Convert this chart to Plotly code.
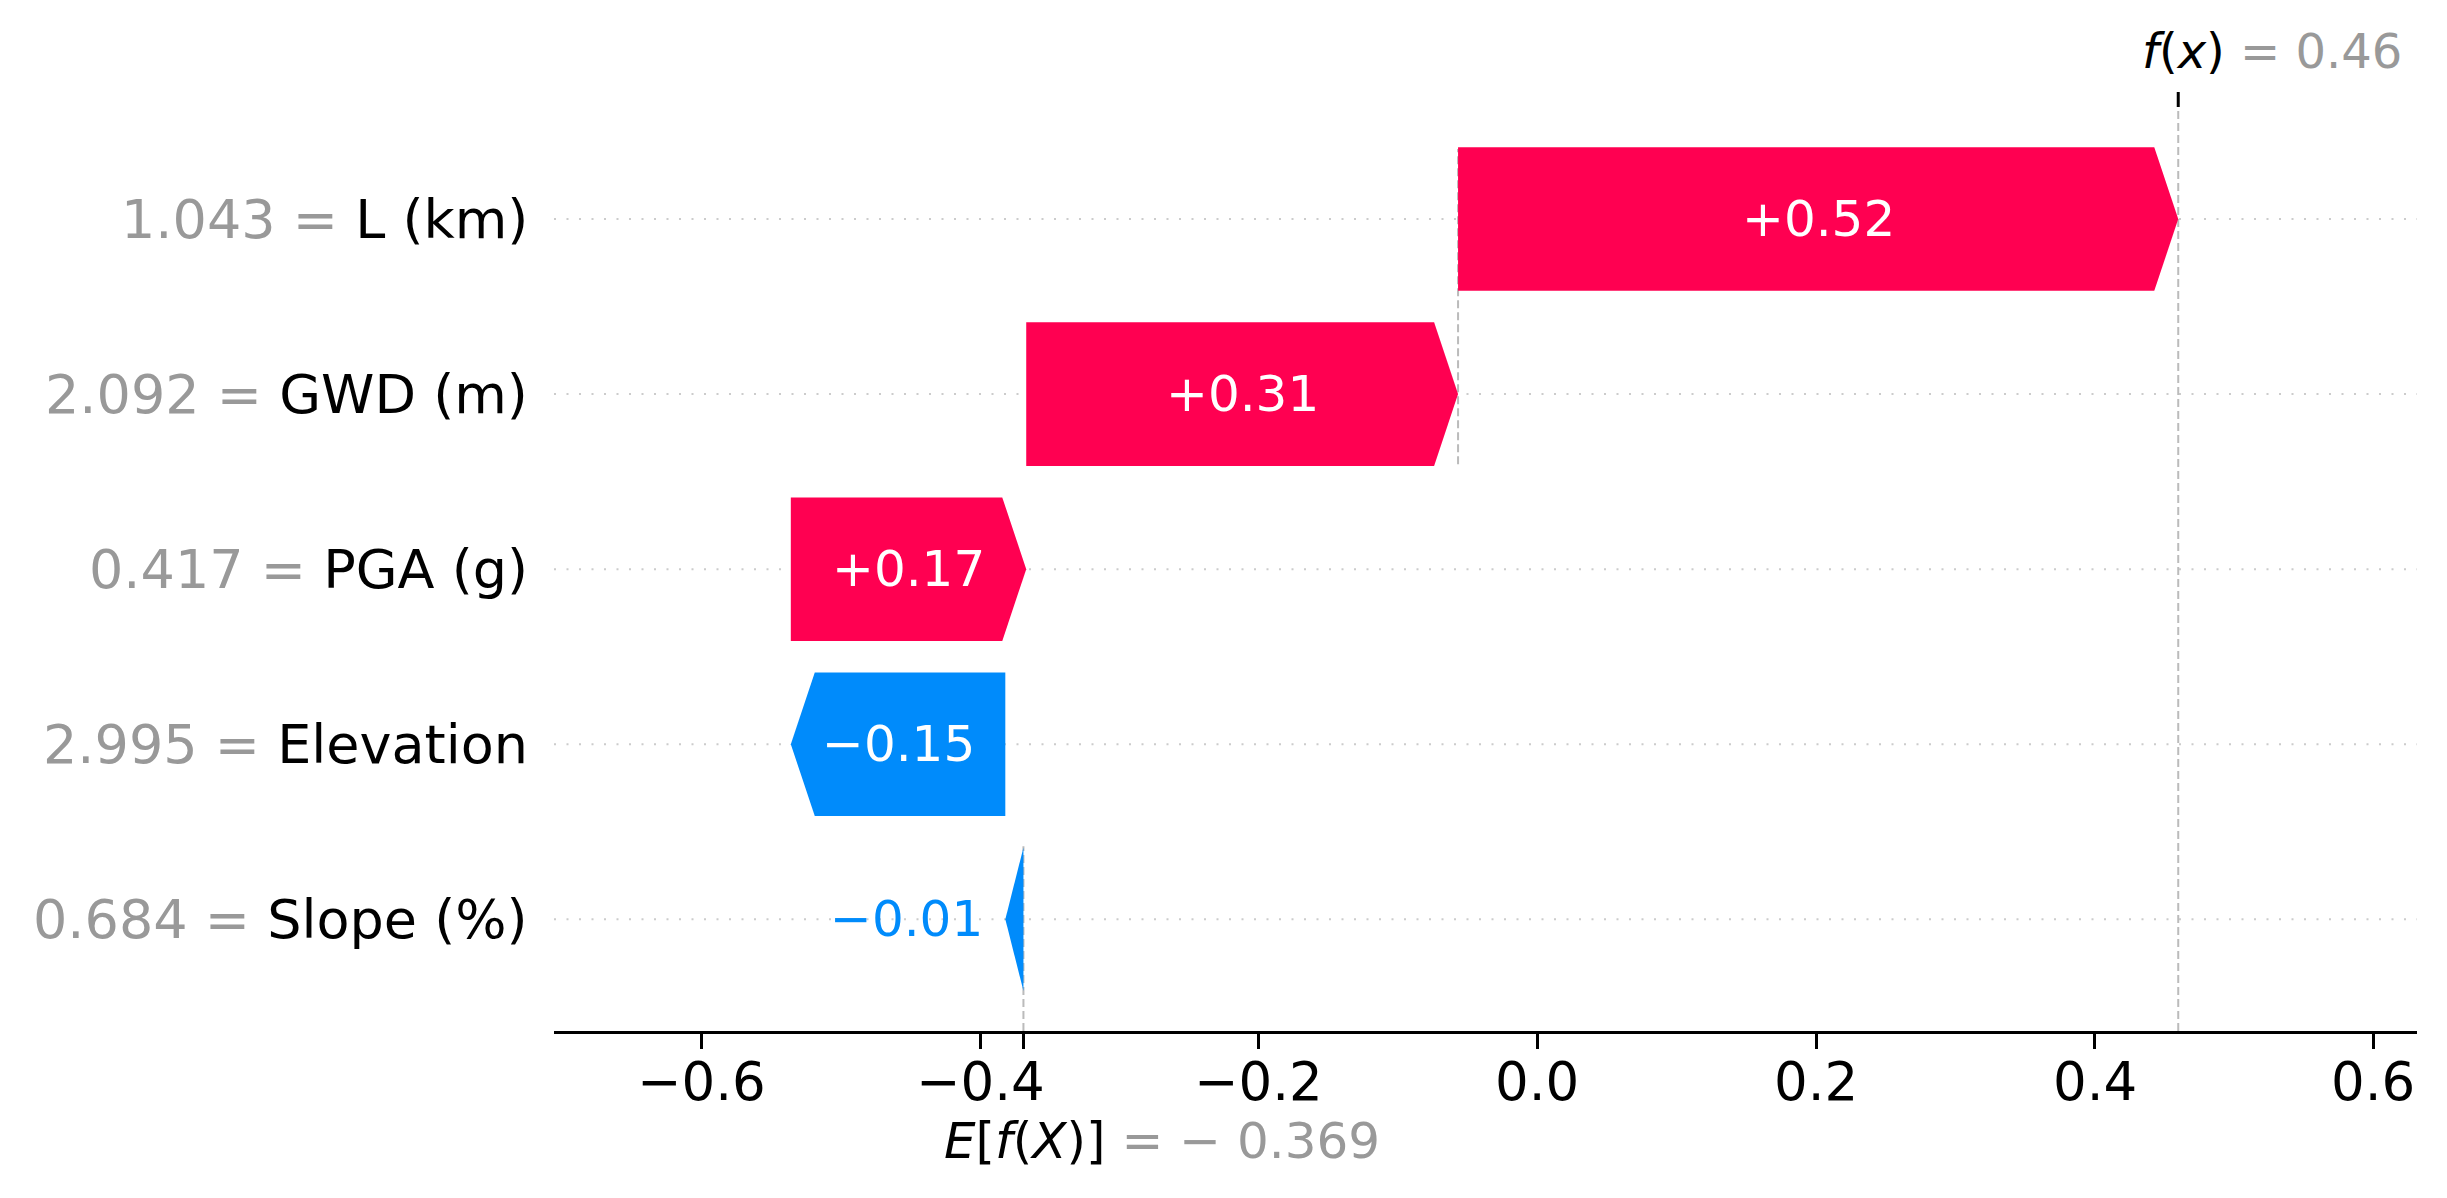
import plotly.graph_objects as go

# SHAP waterfall data (top row first)
features = ['L (km)', 'GWD (m)', 'PGA (g)', 'Elevation', 'Slope (%)']
feature_values = [1.043, 2.092, 0.417, 2.995, 0.684]
shap_values = [0.517, 0.310, 0.169, -0.154, -0.013]
base_value = -0.369
x_ticks = [-0.6, -0.4, -0.2, 0.0, 0.2, 0.4, 0.6]

RED = '#ff0051'
BLUE = '#008bfb'
GRAY = '#999999'
FONT = 'DejaVu Sans'

X_RANGE = [-0.706, 0.6314]
Y_RANGE = [-0.638, 4.64]
HEAD = 0.0172      # arrow head length in data units (~24px)
HALF = 0.41        # half bar height


def fmt_num(v, plus=False):
    s = f'{v:+.2f}' if plus else f'{v:.2f}'
    return s.replace('-', '\u2212')


n = len(features)
rows = list(range(n - 1, -1, -1))

# walk the waterfall from the bottom (base value) upwards
starts = [0.0] * n
ends = [0.0] * n
loc = base_value
for i in range(n - 1, -1, -1):
    starts[i] = loc
    loc = loc + shap_values[i]
    ends[i] = loc
fx = loc

fig = go.Figure()
shapes = []
annotations = []

# dotted row lines
for r in rows:
    shapes.append(dict(type='line', xref='paper', yref='y', x0=0, x1=1, y0=r, y1=r,
                       line=dict(color='#cccccc', width=2, dash='2px,10.5px'), layer='below'))

# dashed reference lines
dashed = dict(color='#bbbbbb', width=2, dash='8px,4px')
shapes.append(dict(type='line', xref='x', yref='paper', x0=fx, x1=fx, y0=0, y1=1,
                   line=dashed, layer='below'))
shapes.append(dict(type='line', xref='x', yref='paper', x0=base_value, x1=base_value, y0=0, y1=1 / n,
                   line=dashed, layer='below'))
shapes.append(dict(type='line', xref='x', yref='y', x0=starts[0], x1=starts[0],
                   y0=rows[0] - 1 - 0.4, y1=rows[0] + 0.4, line=dashed, layer='below'))

# f(x) tick on top
shapes.append(dict(type='line', xref='x', yref='paper', ysizemode='pixel', yanchor=1,
                   x0=fx, x1=fx, y0=0, y1=15, line=dict(color='black', width=3)))

for i in range(n):
    s, e, v, r = starts[i], ends[i], shap_values[i], rows[i]
    color = RED if v >= 0 else BLUE
    d = 1 if v >= 0 else -1
    hl = min(HEAD, abs(v))
    xs = [s, e - d * hl, e, e - d * hl, s, s]
    ys = [r - HALF, r - HALF, r, r + HALF, r + HALF, r - HALF]
    fig.add_trace(go.Scatter(x=xs, y=ys, mode='lines', fill='toself', fillcolor=color,
                             line=dict(width=0, color=color), hoverinfo='skip', showlegend=False))
    txt = fmt_num(v, plus=True)
    if abs(v) > 0.06:
        annotations.append(dict(x=(s + e) / 2, y=r, xref='x', yref='y', text=txt, showarrow=False,
                                font=dict(family=FONT, size=50, color='white')))
    else:
        annotations.append(dict(x=e, y=r, xref='x', yref='y', text=txt, showarrow=False,
                                xanchor='right' if v < 0 else 'left', xshift=20 * d,
                                font=dict(family=FONT, size=50, color=color)))
    annotations.append(dict(x=0, y=r, xref='paper', yref='y', xanchor='right', xshift=-24,
                            text=f"<span style='color:{GRAY}'>{feature_values[i]:.3f} = </span>{features[i]}",
                            showarrow=False, font=dict(family=FONT, size=54, color='black')))

# x tick labels
for t in x_ticks:
    annotations.append(dict(x=t, y=0, xref='x', yref='paper', yanchor='middle', yshift=-50,
                            text=f'{t:.1f}'.replace('-', '\u2212'), showarrow=False,
                            font=dict(family=FONT, size=53, color='black')))

annotations.append(dict(x=fx, y=1, xref='x', yref='paper', xanchor='left', yanchor='middle',
                        xshift=-38, yshift=56, showarrow=False,
                        text=f"<i>f</i>(<i>x</i>) <span style='color:{GRAY}'>= {fx:.2f}</span>",
                        font=dict(family=FONT, size=48, color='black')))
annotations.append(dict(x=base_value, y=0, xref='x', yref='paper', xanchor='left', yanchor='middle',
                        xshift=-81, yshift=-110, showarrow=False,
                        text=f"<i>E</i>[<i>f</i>(<i>X</i>)] <span style='color:{GRAY}'>= \u2212 {abs(base_value):.3f}</span>",
                        font=dict(family=FONT, size=50, color='black')))

# margins compensate for the 8px page margin of the browser
fig.update_layout(
    width=2447, height=1198,
    margin=dict(l=546, r=38, t=99, b=175),
    plot_bgcolor='white', paper_bgcolor='white',
    shapes=shapes, annotations=annotations,
    font=dict(family=FONT),
    xaxis=dict(range=X_RANGE, showgrid=False, zeroline=False, showline=True, linecolor='black',
               linewidth=3, ticks='outside', ticklen=15, tickwidth=3, tickcolor='black',
               tickvals=x_ticks + [base_value], showticklabels=False, automargin=False),
    yaxis=dict(range=Y_RANGE, showgrid=False, zeroline=False, showline=False,
               showticklabels=False, automargin=False),
)

fig.write_html("out.html")
